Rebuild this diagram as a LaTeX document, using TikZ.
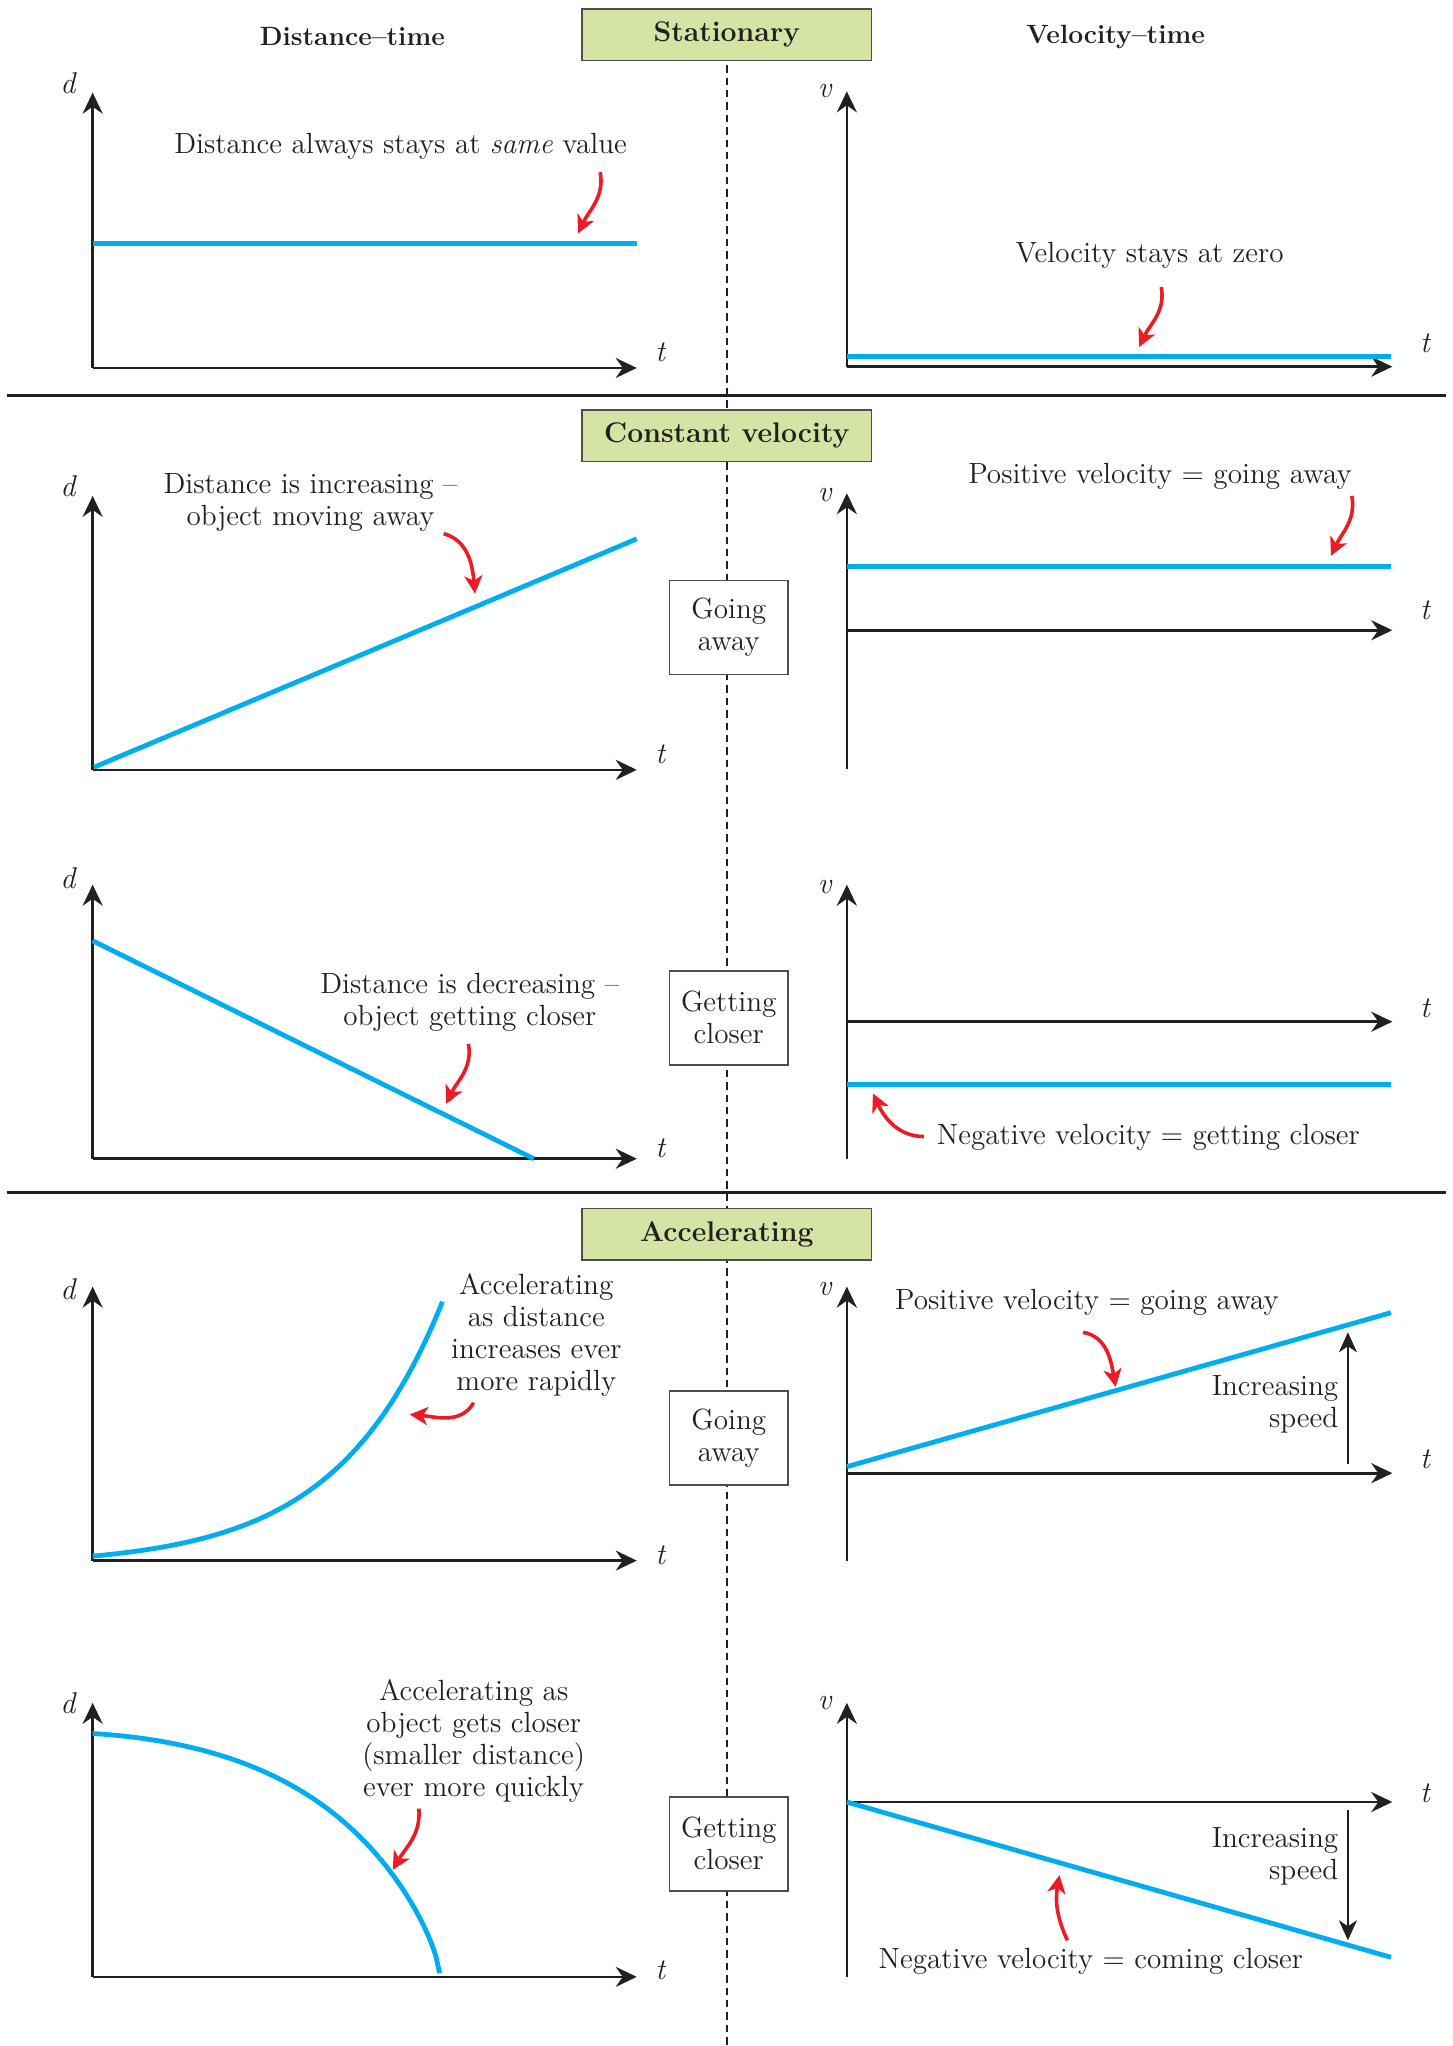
\documentclass[tikz,border=0pt]{standalone}
\usetikzlibrary{arrows.meta}
\definecolor{lineblue}{HTML}{00AEEF}
\definecolor{arrred}{HTML}{ED1C24}
\definecolor{boxgreen}{HTML}{D3E4A5}
\definecolor{ink}{HTML}{231F20}
\begin{document}
\begin{tikzpicture}[x=0.6523pt,y=-0.6523pt,
  every node/.style={font=\fontsize{14.6}{16}\selectfont, text=ink},
  axis/.style={draw=ink, line width=1.35pt, -{Stealth[length=10.5pt,width=10pt,inset=3.5pt]}},
  axisline/.style={draw=ink, line width=1.35pt},
  graph/.style={draw=lineblue, line width=2.4pt},
  pointer/.style={draw=arrred, line width=1.8pt, -{Stealth[length=9pt,width=9pt,inset=2.5pt]}},
  speedarrow/.style={draw=ink, line width=1.2pt, -{Stealth[length=10pt,width=9pt,inset=3pt]}},
  titlebox/.style={draw=ink!80, line width=0.8pt, fill=boxgreen, inner sep=0pt,
    minimum width=144.8pt, minimum height=25.8pt, font=\bfseries\fontsize{14.2}{16}\selectfont},
  sidebox/.style={draw=ink!80, line width=0.8pt, fill=white, align=center, inner sep=0pt,
    minimum width=59.4pt, minimum height=47pt},
  lbl/.style={align=center},
  axlbl/.style={font=\itshape\fontsize{15}{16}\selectfont},
  header/.style={font=\bfseries\fontsize{13.2}{16}\selectfont},
  separator/.style={draw=ink, line width=1.4pt},
  divider/.style={draw=ink, line width=1pt, dash pattern=on 3.7pt off 2.5pt}
]
\useasboundingbox (0,0) rectangle (1113,1568);
\fill[white] (0,0) rectangle (1113,1568);

% separators and dashed divider
\coordinate (sepAl) at (5,303);  \coordinate (sepAr) at (1108,303);
\coordinate (sepBl) at (5,914);  \coordinate (sepBr) at (1108,914);
\draw[separator] (sepAl) -- (sepAr);
\draw[separator] (sepBl) -- (sepBr);
\coordinate (divtop) at (557,50); \coordinate (divbot) at (557,1568);
\draw[divider] (divtop) -- (divbot);

% headers and titles
\node[header] (hdist) at (270,28) {Distance--time};
\node[header] (hvel) at (855,28) {Velocity--time};
\node[titlebox] (tstat) at (557,26.7) {Stationary};
\node[titlebox] (tconst) at (557,334) {Constant velocity};
\node[titlebox] (tacc) at (557,946) {Accelerating};

% side boxes
\node[sidebox] (bga1) at (558.5,481) {Going\\away};
\node[sidebox] (bgc1) at (558.5,780) {Getting\\closer};
\node[sidebox] (bga2) at (558.5,1102) {Going\\away};
\node[sidebox] (bgc2) at (558.5,1413) {Getting\\closer};

% ================= Panel 1 left =================
\coordinate (o1l) at (71,282); \coordinate (y1l) at (71,71); \coordinate (x1l) at (488,282);
\draw[axis] (o1l) -- (y1l);
\draw[axis] (o1l) -- (x1l);
\node[axlbl] (d1) at (52,64) {d};
\node[axlbl] (t1l) at (506,270) {t};
\coordinate (g1a) at (71,186.5); \coordinate (g1b) at (488,186.5);
\draw[graph] (g1a) -- (g1b);
\node[lbl] (l1l) at (307,112) {Distance always stays at \textit{same} value};
\coordinate (p1s) at (460,132); \coordinate (p1e) at (443,179);
\draw[pointer] (p1s) to[out=-80,in=65] (p1e);

% ================= Panel 1 right =================
\coordinate (o1r) at (649,281); \coordinate (y1r) at (649,70); \coordinate (x1r) at (1067,281);
\draw[axis] (o1r) -- (y1r);
\draw[axis] (o1r) -- (x1r);
\node[axlbl] (v1) at (632,70) {v};
\node[axlbl] (t1r) at (1092,263) {t};
\coordinate (g1c) at (649,273.5); \coordinate (g1d) at (1066,273.5);
\draw[graph] (g1c) -- (g1d);
\node[lbl] (l1r) at (881,196) {Velocity stays at zero};
\coordinate (p2s) at (890,220); \coordinate (p2e) at (873,266);
\draw[pointer] (p2s) to[out=-80,in=65] (p2e);

% ================= Panel 2 left =================
\coordinate (o2l) at (71,590); \coordinate (y2l) at (71,380); \coordinate (x2l) at (488,590);
\draw[axis] (o2l) -- (y2l);
\draw[axis] (o2l) -- (x2l);
\node[axlbl] (d2) at (52,373) {d};
\node[axlbl] (t2l) at (506,578) {t};
\coordinate (g2a) at (72,588); \coordinate (g2b) at (488,413);
\draw[graph] (g2a) -- (g2b);
\node[lbl] (l2l) at (238,385) {Distance is increasing --\\object moving away};
\coordinate (p3s) at (340,409); \coordinate (p3e) at (364,455);
\draw[pointer] (p3s) to[out=-15,in=95] (p3e);

% ================= Panel 2 right =================
\coordinate (b2r) at (649,589); \coordinate (y2r) at (649,378);
\coordinate (o2r) at (649,483); \coordinate (x2r) at (1067,483);
\draw[axis] (b2r) -- (y2r);
\draw[axis] (o2r) -- (x2r);
\node[axlbl] (v2) at (632,379) {v};
\node[axlbl] (t2r) at (1092,468) {t};
\coordinate (g2c) at (649,434); \coordinate (g2d) at (1066,434);
\draw[graph] (g2c) -- (g2d);
\node[lbl] (l2r) at (889,365) {Positive velocity = going away};
\coordinate (p4s) at (1036,380); \coordinate (p4e) at (1020,426);
\draw[pointer] (p4s) to[out=-80,in=65] (p4e);

% ================= Panel 3 left =================
\coordinate (o3l) at (71,888); \coordinate (y3l) at (71,678); \coordinate (x3l) at (488,888);
\draw[axis] (o3l) -- (y3l);
\draw[axis] (o3l) -- (x3l);
\node[axlbl] (d3) at (52,673) {d};
\node[axlbl] (t3l) at (506,880) {t};
\coordinate (g3a) at (71,721); \coordinate (g3b) at (409,888);
\draw[graph] (g3a) -- (g3b);
\node[lbl] (l3l) at (360,768) {Distance is decreasing --\\object getting closer};
\coordinate (p5s) at (359,800); \coordinate (p5e) at (342,846);
\draw[pointer] (p5s) to[out=-80,in=65] (p5e);

% ================= Panel 3 right =================
\coordinate (b3r) at (649,888); \coordinate (y3r) at (649,678);
\coordinate (o3r) at (649,783); \coordinate (x3r) at (1067,783);
\draw[axis] (b3r) -- (y3r);
\draw[axis] (o3r) -- (x3r);
\node[axlbl] (v3) at (632,680) {v};
\node[axlbl] (t3r) at (1092,773) {t};
\coordinate (g3c) at (649,831); \coordinate (g3d) at (1066,831);
\draw[graph] (g3c) -- (g3d);
\node[lbl] (l3r) at (880,872) {Negative velocity = getting closer};
\coordinate (p6s) at (708,871); \coordinate (p6e) at (669,838);
\draw[pointer] (p6s) to[out=180,in=-65] (p6e);

% ================= Panel 4 left =================
\coordinate (o4l) at (71,1196); \coordinate (y4l) at (71,986); \coordinate (x4l) at (488,1196);
\draw[axis] (o4l) -- (y4l);
\draw[axis] (o4l) -- (x4l);
\node[axlbl] (d4) at (52,988) {d};
\node[axlbl] (t4l) at (506,1192) {t};
\draw[graph] plot[domain=0:1, samples=70, variable=\u]
  ({71+268.3*\u}, {1192.6-195.6*(exp(3.3*\u)-1)/(exp(3.3)-1)});
\node[lbl] (l4l) at (411,1023) {Accelerating\\as distance\\increases ever\\more rapidly};
\coordinate (p7s) at (363,1075); \coordinate (p7e) at (314,1084);
\draw[pointer] (p7s) to[out=-120,in=-5] (p7e);

% ================= Panel 4 right =================
\coordinate (b4r) at (649,1196); \coordinate (y4r) at (649,986);
\coordinate (o4r) at (649,1129); \coordinate (x4r) at (1067,1129);
\draw[axis] (b4r) -- (y4r);
\draw[axis] (o4r) -- (x4r);
\node[axlbl] (v4) at (632,988) {v};
\node[axlbl] (t4r) at (1092,1118) {t};
\coordinate (g4c) at (649,1124); \coordinate (g4d) at (1066,1006);
\draw[graph] (g4c) -- (g4d);
\node[lbl] (l4r) at (833,998) {Positive velocity = going away};
\coordinate (p8s) at (830,1021); \coordinate (p8e) at (855,1063);
\draw[pointer] (p8s) to[out=-10,in=100] (p8e);
\coordinate (s4a) at (1033,1122); \coordinate (s4b) at (1033,1021);
\draw[speedarrow] (s4a) -- (s4b);
\node[align=right, anchor=east] (is4) at (1031,1076) {Increasing\\speed};

% ================= Panel 5 left =================
\coordinate (o5l) at (71,1515); \coordinate (y5l) at (71,1305); \coordinate (x5l) at (488,1515);
\draw[axis] (o5l) -- (y5l);
\draw[axis] (o5l) -- (x5l);
\node[axlbl] (d5) at (52,1305) {d};
\node[axlbl] (t5l) at (506,1510) {t};
\draw[graph] plot[domain=0:1, samples=90, variable=\u]
  ({71+266*\u}, {1328.5+186.5*(0.55*(exp(3*\u)-1)/(exp(3)-1)+0.45*(1-sqrt(max(0,1-\u*\u))))});
\node[lbl] (l5l) at (363,1334) {Accelerating as\\object gets closer\\(smaller distance)\\ever more quickly};
\coordinate (p9s) at (321,1386); \coordinate (p9e) at (301,1433);
\draw[pointer] (p9s) to[out=-85,in=60] (p9e);

% ================= Panel 5 right =================
\coordinate (b5r) at (649,1515); \coordinate (y5r) at (649,1305);
\coordinate (o5r) at (649,1381); \coordinate (x5r) at (1067,1381);
\draw[axis] (b5r) -- (y5r);
\draw[axis] (o5r) -- (x5r);
\node[axlbl] (v5) at (632,1305) {v};
\node[axlbl] (t5r) at (1092,1374) {t};
\coordinate (g5c) at (649,1381); \coordinate (g5d) at (1066,1500);
\draw[graph] (g5c) -- (g5d);
\node[lbl] (l5r) at (836,1503) {Negative velocity = coming closer};
\coordinate (p10s) at (818,1487); \coordinate (p10e) at (812,1437);
\draw[pointer] (p10s) to[out=115,in=-100] (p10e);
\coordinate (s5a) at (1033,1387); \coordinate (s5b) at (1033,1487);
\draw[speedarrow] (s5a) -- (s5b);
\node[align=right, anchor=east] (is5) at (1031,1423) {Increasing\\speed};
\end{tikzpicture}
\end{document}
